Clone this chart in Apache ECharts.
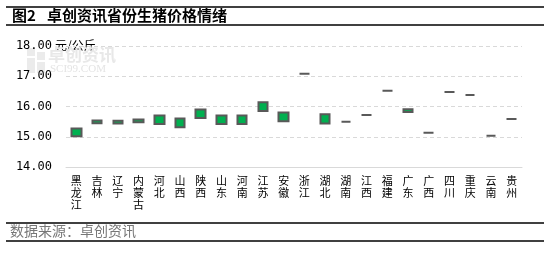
<!DOCTYPE html>
<html><head><meta charset="utf-8">
<script src="https://cdn.jsdelivr.net/npm/echarts@6/dist/echarts.min.js"></script>
<style>html,body{margin:0;padding:0;background:#fff}#c{width:555px;height:253px}</style>
</head><body><div id="c"></div>
<script>
const categories = ['黑龙江','吉林','辽宁','内蒙古','河北','山西','陕西','山东','河南','江苏','安徽','浙江','湖北','湖南','江西','福建','广东','广西','四川','重庆','云南','贵州'];
const lowPrice  = [15.02,15.45,15.44,15.48,15.42,15.31,15.62,15.42,15.42,15.85,15.51,17.08,15.44,15.50,15.72,16.52,15.82,15.13,16.48,16.38,15.03,15.59];
const highPrice = [15.27,15.54,15.53,15.57,15.70,15.60,15.90,15.70,15.70,16.14,15.80,17.08,15.74,15.50,15.72,16.52,15.91,15.13,16.48,16.38,15.03,15.59];
const yTicks = [14,15,16,17,18];

const chart = echarts.init(document.getElementById('c'), null, {renderer:'canvas'});
const font = '"Noto Sans CJK SC","Noto Sans",sans-serif';
const data = categories.map((c,i)=>[lowPrice[i], highPrice[i], lowPrice[i], highPrice[i]]);
chart.setOption({
  animation:false,
  backgroundColor:'#fff',
  grid:{left:66,right:33,top:46,bottom:86},
  xAxis:{type:'category',data:categories,
    axisLine:{lineStyle:{color:'#d9d9d9',width:1}},
    axisTick:{show:false},
    axisLabel:{interval:0,fontSize:11,lineHeight:12,color:'#000',fontFamily:font,margin:8,
      formatter:v=>v.split('').join('\n'),verticalAlign:'top'}},
  yAxis:{type:'value',min:yTicks[0],max:yTicks[yTicks.length-1],interval:1,
    axisLine:{show:false},axisTick:{show:false},
    splitLine:{lineStyle:{color:'#d9d9d9',type:[4,3],width:1}},
    axisLabel:{formatter:v=>v.toFixed(2),fontSize:12,color:'#000',fontFamily:'"DejaVu Sans Mono",monospace',margin:14}},
  series:[{type:'candlestick',data:data,barWidth:10,
    itemStyle:{color:'#00B050',color0:'#00B050',borderColor:'#595959',borderColor0:'#595959',borderWidth:2}}],
  graphic:[
    {type:'line',shape:{x1:6,y1:7,x2:544,y2:7},style:{stroke:'#000',lineWidth:1.5}},
    {type:'line',shape:{x1:6,y1:25,x2:544,y2:25},style:{stroke:'#000',lineWidth:1.5}},
    {type:'text',left:12,top:8,style:{text:'图2',font:'bold 15px '+font,fill:'#000'}},
    {type:'text',left:47,top:8,style:{text:'卓创资讯省份生猪价格情绪',font:'bold 15px '+font,fill:'#000'}},
    {type:'line',shape:{x1:6,y1:223,x2:544,y2:223},style:{stroke:'#000',lineWidth:1.5}},
    {type:'line',shape:{x1:6,y1:241,x2:544,y2:241},style:{stroke:'#000',lineWidth:1.5}},
    {type:'text',left:10,top:224,style:{text:'数据来源：卓创资讯',font:'14px '+font,fill:'#777'}},
    {type:'text',left:55,top:39,style:{text:'元/公斤',font:'12px '+font,fill:'#000'}},
    {type:'rect',shape:{x:27,y:48,width:8,height:8},style:{fill:'#ebebeb'}},
    {type:'rect',shape:{x:37,y:52,width:8,height:8},style:{fill:'#ebebeb'}},
    {type:'rect',shape:{x:27,y:58,width:8,height:15},style:{fill:'#ebebeb'}},
    {type:'rect',shape:{x:37,y:62,width:8,height:11},style:{fill:'#ebebeb'}},
    {type:'text',left:48,top:46,style:{text:'卓创资讯',font:'bold 17px '+font,fill:'#e8e8e8'}},
    {type:'text',left:50,top:64,style:{text:'SCI99.COM',font:'11px "Liberation Serif",serif',fill:'#e4e4e4'}}
  ]
});
</script></body></html>
